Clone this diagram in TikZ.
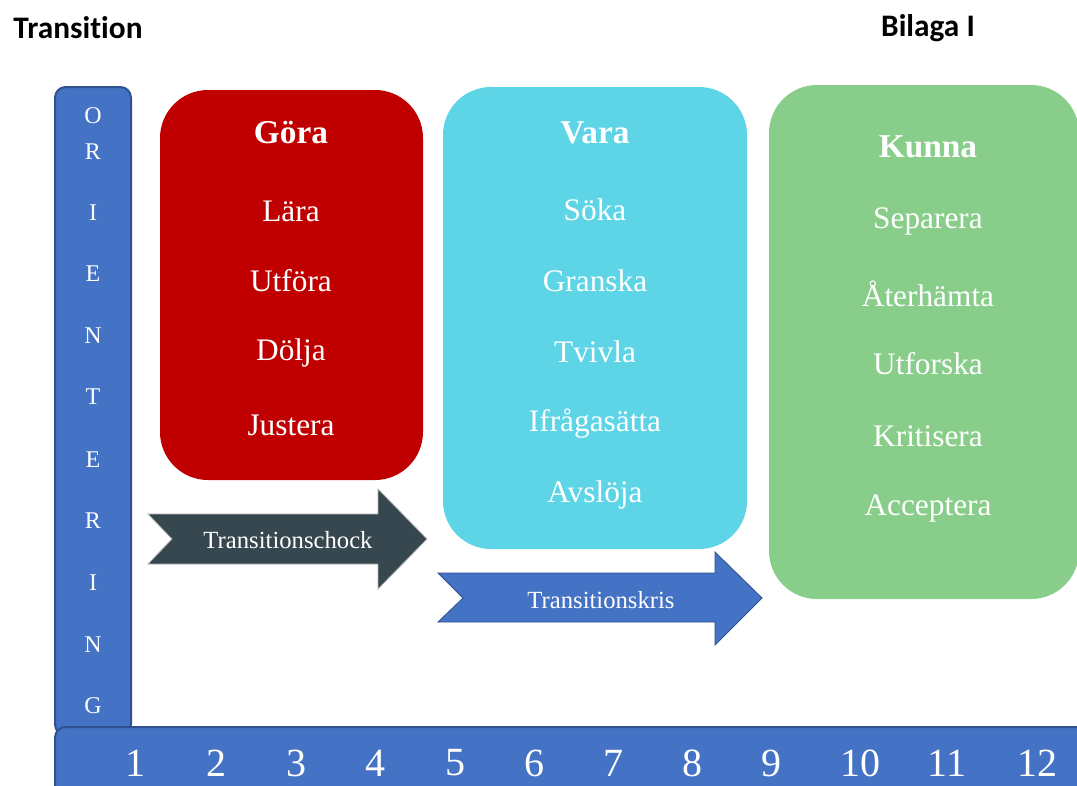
\documentclass[tikz,border=0pt]{standalone}
\usepackage{fontspec}
\setmainfont{Liberation Serif}
\newfontfamily\titlefont[Ligatures=NoCommon]{Carlito}
\usepackage{tikz}
\usetikzlibrary{positioning}

\definecolor{barBlue}{HTML}{4472C4}
\definecolor{barLine}{HTML}{2F528F}
\definecolor{goraRed}{HTML}{C00000}
\definecolor{varaCyan}{HTML}{5DD5E6}
\definecolor{kunnaGreen}{HTML}{88CE8A}
\definecolor{chockGrey}{HTML}{37474F}

\begin{document}
\begin{tikzpicture}[x=0.75pt, y=-0.75pt]
	% Define styles
	\tikzset{
		bar/.style={draw=barLine, fill=barBlue, line width=1.5pt, rounded corners=8pt},
		box/.style={rounded corners=36pt},
		head/.style={text=white, font=\fontsize{25}{30}\selectfont\bfseries},
		item/.style={text=white, font=\fontsize{23.5}{28}\selectfont},
		letter/.style={text=white, font=\fontsize{18}{22}\selectfont},
		num/.style={text=white, font=\fontsize{30}{36}\selectfont},
		title/.style={font=\titlefont\bfseries\fontsize{23.5}{28}\selectfont},
		shiftlabel/.style={text=white, font=\fontsize{18.5}{22}\selectfont}
	}
	\clip (0,0) rectangle (1077,785);
	\fill[white] (0,0) rectangle (1077,785);
	
	% Titles
	\node[title] (transition) at (78,28) {Transition};
	\node[title] (bilaga) at (928,28) {Bilaga I};
	
	% Bars
	\draw[bar] (55,87) rectangle (131,735);
	\draw[bar] (55,727) rectangle (1100,800);
	
	% Orientering
	\node[letter] (o1) at (93,116) {O};
	\node[letter] (r1) at (93,152) {R};
	\node[letter] (i1) at (93,213) {I};
	\node[letter] (e1) at (93,274) {E};
	\node[letter] (n1) at (93,336) {N};
	\node[letter] (t1) at (93,397) {T};
	\node[letter] (e2) at (93,460) {E};
	\node[letter] (r2) at (93,521) {R};
	\node[letter] (i2) at (93,583) {I};
	\node[letter] (n2) at (93,645) {N};
	\node[letter] (g1) at (93,706) {G};
	
	% Steps
	\node[num] (s1) at (135,763) {1};
	\node[num] (s2) at (216,763) {2};
	\node[num] (s3) at (296,763) {3};
	\node[num] (s4) at (375,763) {4};
	\node[num] (s5) at (455,763) {5};
	\node[num] (s6) at (534,763) {6};
	\node[num] (s7) at (613,763) {7};
	\node[num] (s8) at (692,763) {8};
	\node[num] (s9) at (771,763) {9};
	\node[num] (s10) at (860,763) {10};
	\node[num] (s11) at (947,763) {11};
	\node[num] (s12) at (1037,763) {12};
	
	% Boxes
	\fill[goraRed, box] (160,90) rectangle (423,480);
	\fill[varaCyan, box] (443,87) rectangle (747,549);
	\fill[kunnaGreen, box] (769,85) rectangle (1079,599);
	
	\node[head] (gora) at (291,133) {Göra};
	\node[item] (lara) at (291,211) {Lära};
	\node[item] (utfora) at (291,281) {Utföra};
	\node[item] (dolja) at (291,353) {Dölja};
	\node[item] (justera) at (291,425) {Justera};
	
	\node[head] (vara) at (595,133) {Vara};
	\node[item] (soka) at (595,210) {Söka};
	\node[item] (granska) at (595,281) {Granska};
	\node[item] (tvivla) at (595,352) {Tvivla};
	\node[item] (ifraga) at (595,424) {Ifrågasätta};
	\node[item] (avsloja) at (595,495) {Avslöja};
	
	\node[head] (kunna) at (928,147) {Kunna};
	\node[item] (separera) at (928,221) {Separera};
	\node[item] (aterhamta) at (928,294) {Återhämta};
	\node[item] (utforska) at (928,364) {Utforska};
	\node[item] (kritisera) at (928,436) {Kritisera};
	\node[item] (acceptera) at (928,508) {Acceptera};
	
	% Arrows
	\filldraw[fill=chockGrey, draw=gray!60, line width=0.6pt] (148,514) -- (378,514) -- (378,489) -- (427,539) -- (378,589) -- (378,564) -- (148,564) -- (172,539) -- cycle;
	\node[shiftlabel] (chock) at (288,540) {Transitionschock};
	
	\filldraw[fill=barBlue, draw=barLine, line width=0.6pt] (438,573) -- (715,573) -- (715,552) -- (762,598) -- (715,645) -- (715,622) -- (438,622) -- (463,598) -- cycle;
	\node[shiftlabel] (kris) at (601,600) {Transitionskris};
\end{tikzpicture}
\end{document}
